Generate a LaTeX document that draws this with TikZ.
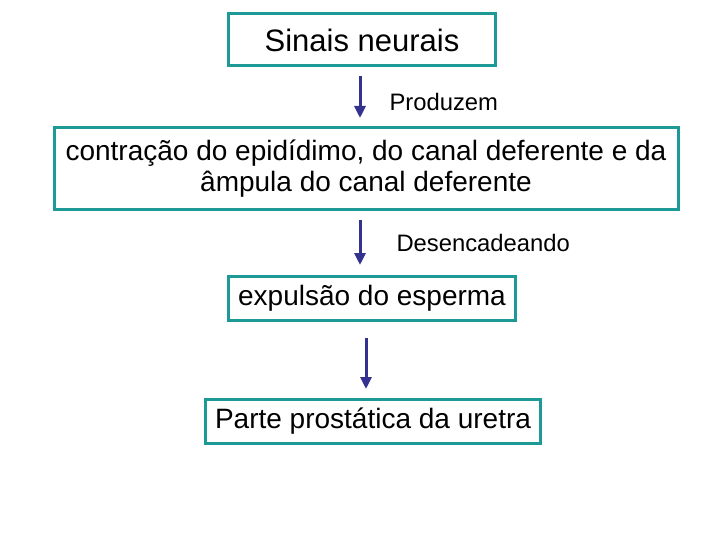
\documentclass[tikz,border=0pt]{standalone}
\usepackage{fontspec}
\setmainfont{Liberation Sans}
\usetikzlibrary{arrows.meta}
\definecolor{boxteal}{HTML}{1E9A96}
\definecolor{arrowblue}{HTML}{33338F}
\tikzset{
	stagebox/.style={draw=boxteal, line width=3pt, inner sep=0pt, font=\fontsize{28}{31}\selectfont},
	flowarrow/.style={draw=arrowblue, line width=3pt, -{Triangle[length=12pt,width=11pt]}},
	steplabel/.style={anchor=west, font=\fontsize{23.8}{27}\selectfont}
}
\begin{document}
\begin{tikzpicture}[x=1pt,y=-1pt]
	\useasboundingbox[fill=white] (0,0) rectangle (720,540);
	
	\node[stagebox, minimum width=267, minimum height=52, font=\fontsize{31}{34}\selectfont] (sinais) at (362,40) {Sinais neurais};
	\node[stagebox, minimum width=624, minimum height=82, align=center] (contracao) at (366,169)
		{contração do epidídimo, do canal deferente e da\\âmpula do canal deferente};
	\node[stagebox, minimum width=287, minimum height=44] (expulsao) at (372,298) {expulsão do esperma};
	\node[stagebox, minimum width=335, minimum height=44] (uretra) at (373,421) {Parte prostática da uretra};
	
	\coordinate (a1) at (360,76);  \coordinate (b1) at (360,118);
	\coordinate (a2) at (360,220); \coordinate (b2) at (360,265);
	\coordinate (a3) at (366,338); \coordinate (b3) at (366,389);
	
	\draw[flowarrow] (a1) -- (b1);
	\draw[flowarrow] (a2) -- (b2);
	\draw[flowarrow] (a3) -- (b3);
	
	\node[steplabel] (produzem) at (386,102) {Produzem};
	\node[steplabel] (desencadeando) at (393,243) {Desencadeando};
\end{tikzpicture}
\end{document}
